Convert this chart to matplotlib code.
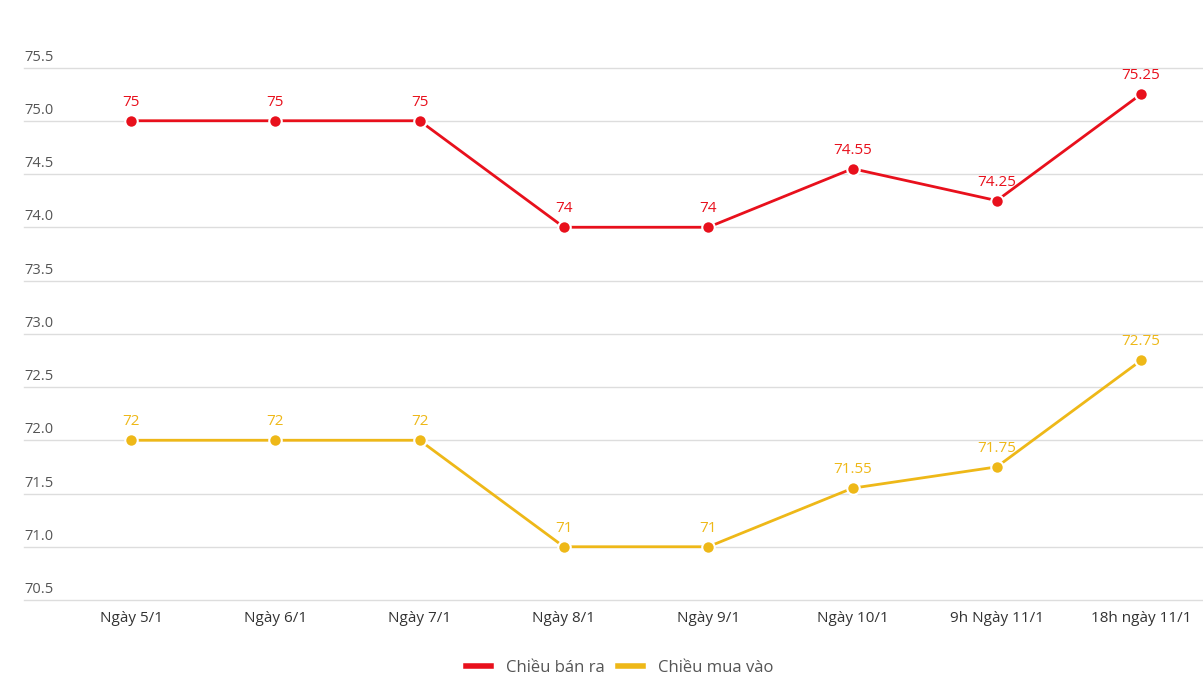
import matplotlib.pyplot as plt
from matplotlib.lines import Line2D

categories = ["Ngày 5/1", "Ngày 6/1", "Ngày 7/1", "Ngày 8/1", "Ngày 9/1",
              "Ngày 10/1", "9h Ngày 11/1", "18h ngày 11/1"]
sell = [75, 75, 75, 74, 74, 74.55, 74.25, 75.25]
buy = [72, 72, 72, 71, 71, 71.55, 71.75, 72.75]
sell_labels = ["75", "75", "75", "74", "74", "74.55", "74.25", "75.25"]
buy_labels = ["72", "72", "72", "71", "71", "71.55", "71.75", "72.75"]
yticks = [70.5, 71.0, 71.5, 72.0, 72.5, 73.0, 73.5, 74.0, 74.5, 75.0, 75.5]

RED = "#e8101c"
YELLOW = "#eeb818"

plt.rcParams['font.family'] = ['Open Sans', 'DejaVu Sans']

fig = plt.figure(figsize=(12.03, 6.92), dpi=100)
W, H = 1203, 692
ax = fig.add_axes([24 / W, 92 / H, 1 - 24 / W, (600 - 67.5) / H])

x = list(range(len(categories)))
step = 144.3
ax.set_xlim((24 - 131) / step, (1203 - 131) / step)
ax.set_ylim(70.5, 75.5)

# grid lines with labels sitting just above them
for v in yticks:
    ax.axhline(v, color="#dddddd", lw=1, zorder=0, clip_on=False)
    ax.annotate(f"{v:.1f}", (0, v), xycoords=ax.get_yaxis_transform(),
                xytext=(0, 2), textcoords="offset points",
                ha="left", va="bottom", fontsize=10.5, color="#555555")

for vals, labs, c in [(sell, sell_labels, RED), (buy, buy_labels, YELLOW)]:
    ax.plot(x, vals, color=c, lw=2, marker="o", markersize=9,
            markerfacecolor=c, markeredgecolor="white", markeredgewidth=1.5,
            clip_on=False, zorder=3)
    for xi, v, t in zip(x, vals, labs):
        ax.annotate(t, (xi, v), xytext=(0, 8), textcoords="offset points",
                    ha="center", va="bottom", fontsize=11, color=c)

ax.set_xticks(x)
ax.set_xticklabels(categories, fontsize=11, color="#333333")
ax.tick_params(axis="x", length=0, pad=8)
ax.set_yticks([])
for s in ax.spines.values():
    s.set_visible(False)

handles = [Line2D([0], [0], color=RED, lw=4),
           Line2D([0], [0], color=YELLOW, lw=4)]
fig.legend(handles, ["Chiều bán ra", "Chiều mua vào"], loc="center",
           bbox_to_anchor=(0.515, 1 - 668 / H), ncol=2, frameon=False,
           fontsize=12, labelcolor="#555555", handlelength=1.5,
           columnspacing=0.8, handletextpad=0.9)

fig.savefig("out.png", dpi=100)
